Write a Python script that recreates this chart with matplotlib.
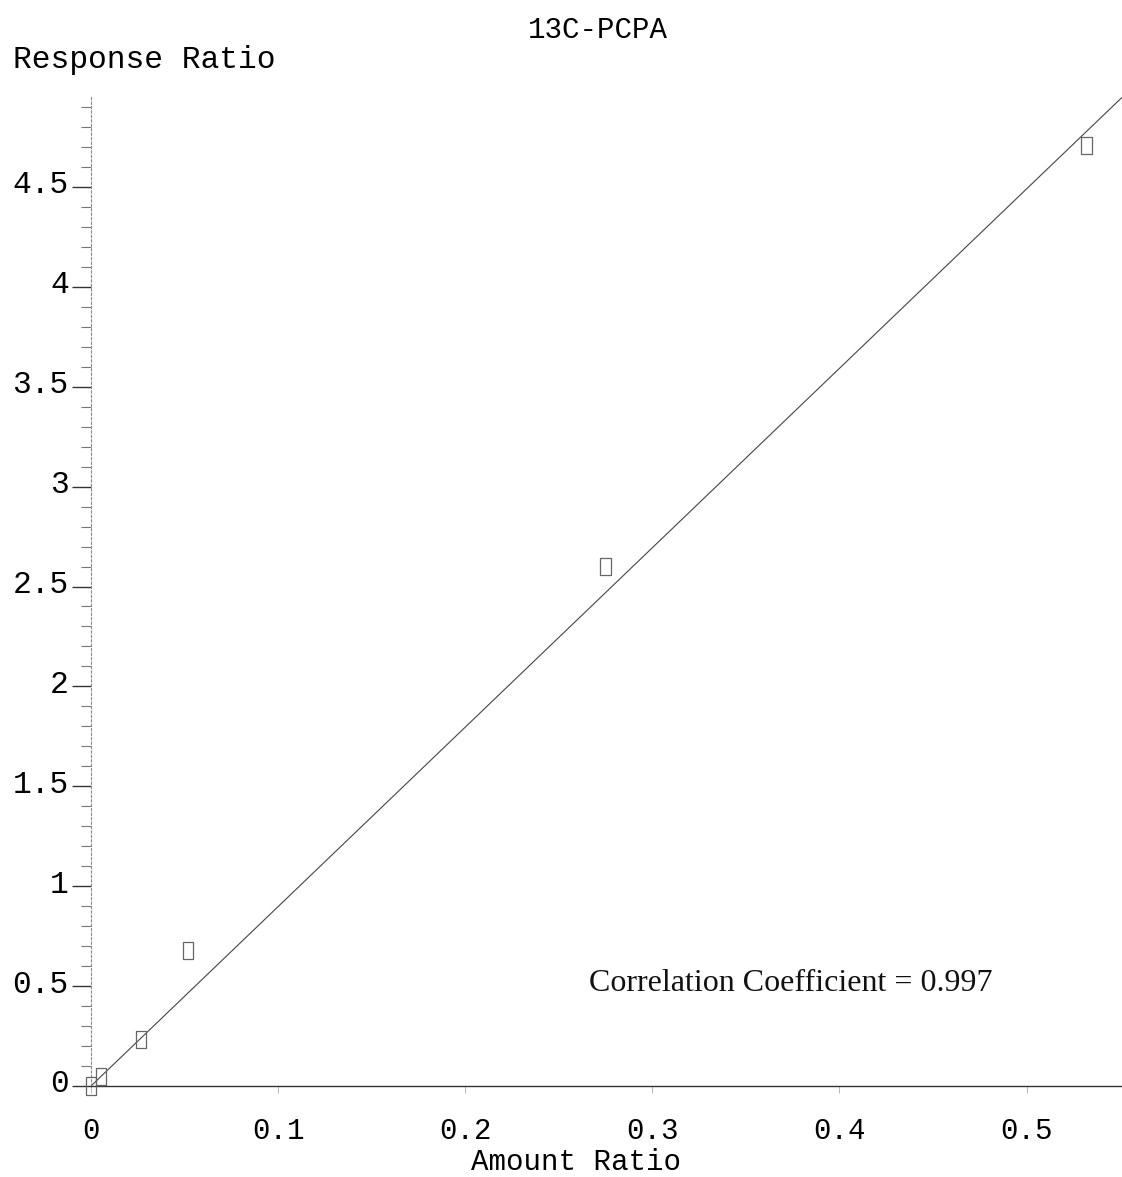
import matplotlib.pyplot as plt
from matplotlib.path import Path
from matplotlib.transforms import ScaledTranslation

# calibration points
amount_ratio = [0.0, 0.0053, 0.0267, 0.052, 0.275, 0.532]
response_ratio = [0.0, 0.05, 0.235, 0.68, 2.60, 4.705]

# fitted line shown on the plot
fit_slope = 8.98
fit_intercept = 0.0
corr_coef = 0.997

x_ticks = [0, 0.1, 0.2, 0.3, 0.4, 0.5]
y_ticks = [0, 0.5, 1, 1.5, 2, 2.5, 3, 3.5, 4, 4.5]
x_max = 0.551
y_max = 4.95

MONO = "Liberation Mono"
SERIF = "Liberation Serif"


def fmt(v):
    return "0" if v == 0 else f"{v:g}"


fig = plt.figure(figsize=(11.22, 11.77), dpi=100)
ax = fig.add_axes([91 / 1122, 1 - 1086 / 1177, 1 - 91 / 1122, (1086 - 97) / 1177])

ax.set_xlim(0, x_max)
ax.set_ylim(0, y_max)

# fit line
ax.plot([0, x_max], [fit_intercept, fit_intercept + fit_slope * x_max],
        color="#444444", lw=0.8, clip_on=True)

# tall open rectangles as markers
rect = Path([(-0.6, -1), (0.6, -1), (0.6, 1), (-0.6, 1), (-0.6, -1)], closed=True)
ax.scatter(amount_ratio, response_ratio, marker=rect, s=150, facecolors="none",
           edgecolors="#666666", linewidths=0.9, clip_on=False, zorder=3)

ax.text(0.374, 0.515, f"Correlation Coefficient = {corr_coef}", family=SERIF,
        fontsize=23, ha="center", va="center", color="#111111")

# spines
for s in ("top", "right"):
    ax.spines[s].set_visible(False)
ax.spines["left"].set_linestyle((0, (2, 2)))
ax.spines["left"].set_color("#888888")
ax.spines["left"].set_linewidth(0.8)
ax.spines["bottom"].set_color("#333333")
ax.spines["bottom"].set_linewidth(1.0)

# y ticks
ax.set_yticks(y_ticks)
ax.set_yticklabels([fmt(v) for v in y_ticks], family=MONO, fontsize=22.5)
ax.set_yticks([i / 10 for i in range(0, 50)], minor=True)
ax.tick_params(axis="y", which="major", direction="out", length=14, width=1.0,
               color="#333333", pad=2)
ax.tick_params(axis="y", which="minor", direction="out", length=7, width=0.8,
               color="#777777")
off = ScaledTranslation(0, 5 / 100, fig.dpi_scale_trans)
for lab in ax.get_yticklabels():
    lab.set_transform(lab.get_transform() + off)

# x ticks
ax.set_xticks(x_ticks)
ax.set_xticklabels([fmt(v) for v in x_ticks], family=MONO, fontsize=21)
ax.tick_params(axis="x", which="major", direction="out", length=5, width=0.6,
               color="#aaaaaa", pad=17)

fig.text(598 / 1122, 1 - 30 / 1177, "13C-PCPA", family=MONO, fontsize=21,
         ha="center", va="center")
fig.text(13 / 1122, 1 - 60 / 1177, "Response Ratio", family=MONO, fontsize=22.5,
         ha="left", va="center")
fig.text(576 / 1122, 1 - 1162 / 1177, "Amount Ratio", family=MONO, fontsize=21,
         ha="center", va="center")

fig.savefig("out.png", dpi=100)
